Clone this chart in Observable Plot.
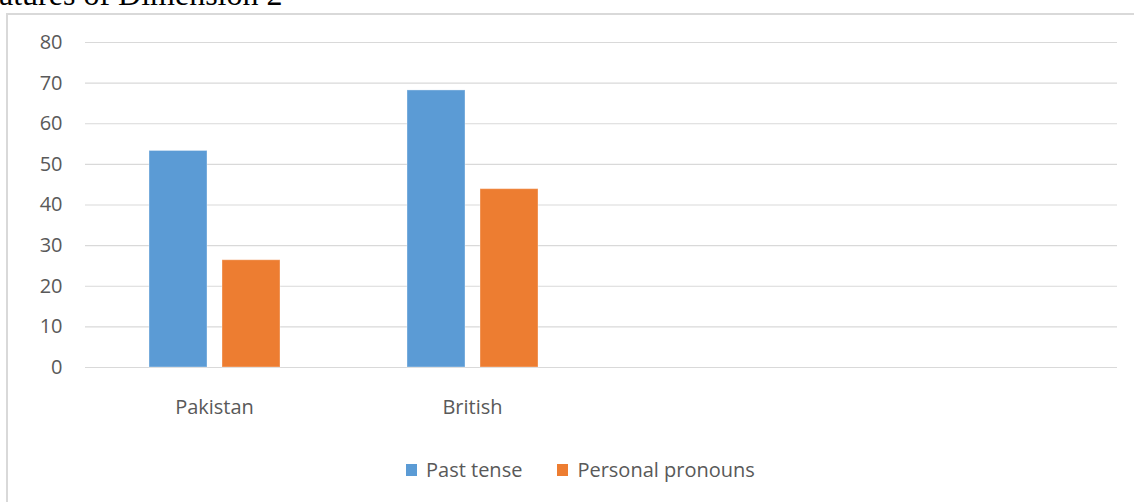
<!DOCTYPE html>
<html>
<head>
<meta charset="utf-8">
<script src="https://cdn.jsdelivr.net/npm/d3@7"></script>
<script src="https://cdn.jsdelivr.net/npm/@observablehq/plot@0.6"></script>
<style>
  html, body { margin: 0; padding: 0; background: #fff; width: 1134px; height: 502px; overflow: hidden; }
  #wrap { position: relative; width: 1134px; height: 502px; overflow: hidden; }
  #title { position: absolute; left: -33px; top: -22px; font-family: "Liberation Serif", "Times New Roman", serif;
           font-size: 32px; line-height: 32px; white-space: nowrap; color: #000; }
  #chart { position: absolute; left: 0; top: 0; }
  #frame { position: absolute; left: 6px; top: 13px; width: 1300px; height: 700px; border: 2px solid #d9d9d9;
           box-sizing: border-box; pointer-events: none; }
  #legend { position: absolute; left: 406px; top: 456px; display: flex; align-items: center;
            font-family: "Open Sans", sans-serif; font-size: 20px; color: #595959; white-space: nowrap; }
  #legend .item { display: flex; align-items: center; margin-right: 35px; }
  #legend .sw { width: 11px; height: 12px; margin-right: 9px; }
</style>
</head>
<body>
<div id="wrap">
  <div id="chart"></div>
  <div id="title">Features of Dimension 2</div>
  <div id="frame"></div>
  <div id="legend"></div>
</div>
<script>
// Data
const categories = ["Pakistan", "British", "", " "];
const series = ["Past tense", "Personal pronouns"];
const pastTense = [53.3, 68.2];
const personalPronouns = [26.4, 43.9];
const colors = ["#5b9bd5", "#ed7d31"];
const yTicks = [0, 10, 20, 30, 40, 50, 60, 70, 80];

const rows = [];
[pastTense, personalPronouns].forEach((vals, s) => {
  vals.forEach((v, i) => rows.push({category: categories[i], series: series[s], value: v}));
});
const gridRows = [];
categories.forEach(c => yTicks.forEach(t => gridRows.push({category: c, tick: t})));

const chart = Plot.plot({
  width: 1134,
  height: 430,
  marginTop: 42,
  marginBottom: 63,
  marginLeft: 83,
  marginRight: 16,
  style: {fontFamily: "'Open Sans', sans-serif", fontSize: "20px", color: "#595959", background: "transparent"},
  fx: {domain: categories, padding: 0, axis: "bottom", tickSize: 0, tickPadding: 32, label: null},
  x: {domain: series, axis: null, paddingInner: 0.206, paddingOuter: 0.855},
  y: {domain: [0, 80], ticks: yTicks, tickSize: 0, tickPadding: 23, label: null},
  color: {domain: series, range: colors},
  marks: [
    Plot.ruleY(gridRows, {fx: "category", y: "tick", stroke: "#d9d9d9", strokeWidth: 1.2}),
    Plot.barY(rows, {fx: "category", x: "series", y: "value", fill: "series",
                     stroke: "white", strokeOpacity: 0.35, strokeWidth: 1})
  ]
});
document.getElementById("chart").appendChild(chart);

const legend = document.getElementById("legend");
series.forEach((s, i) => {
  const item = document.createElement("div");
  item.className = "item";
  const sw = document.createElement("span");
  sw.className = "sw";
  sw.style.background = colors[i];
  const label = document.createElement("span");
  label.textContent = s;
  item.appendChild(sw);
  item.appendChild(label);
  legend.appendChild(item);
});
</script>
</body>
</html>
